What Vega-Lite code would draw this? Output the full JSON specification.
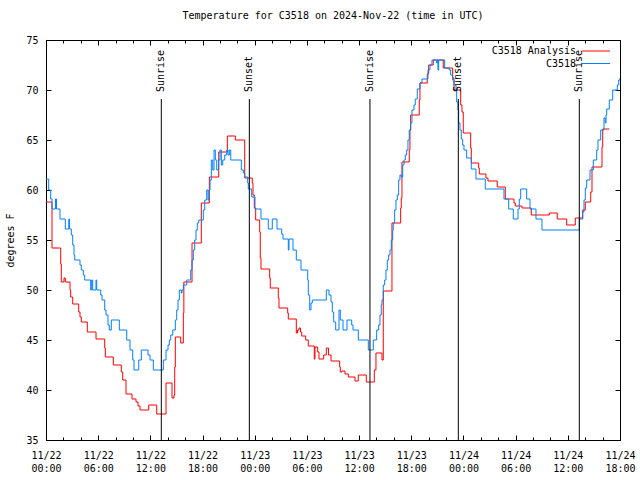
{
  "$schema": "https://vega.github.io/schema/vega-lite/v6.json",
  "width": 574,
  "height": 400,
  "autosize": "none",
  "padding": {"left": 46, "top": 40, "right": 20, "bottom": 40},
  "background": "white",
  "title": {"text": "Temperature for C3518 on 2024-Nov-22 (time in UTC)", "font": "DejaVu Sans Mono", "fontSize": 10, "fontWeight": "normal", "color": "black", "offset": 14, "anchor": "middle"},
  "config": {
    "view": {"stroke": "black", "strokeWidth": 1},
    "axis": {"grid": false, "domain": false, "labelFont": "DejaVu Sans Mono", "labelFontSize": 10, "labelColor": "black", "titleFont": "DejaVu Sans Mono", "titleFontSize": 10, "titleFontWeight": "normal", "titleColor": "black", "tickColor": "black", "tickWidth": 1},
    "legend": {"labelFont": "DejaVu Sans Mono", "labelFontSize": 10, "labelColor": "black"}
  },
  "datasets": {
    "analysis": [
      {"h":0,"t":58.8},{"h":0.69,"t":54.2},{"h":1.69,"t":52.6},{"h":1.76,"t":50.8},{"h":2.07,"t":51.2},{"h":2.22,"t":50.8},{"h":2.76,"t":50.0},{"h":2.84,"t":49.3},{"h":3.07,"t":48.6},{"h":3.76,"t":47.8},{"h":3.91,"t":47.3},{"h":4.06,"t":46.8},{"h":4.75,"t":45.8},{"h":5.75,"t":45.1},{"h":6.75,"t":44.2},{"h":6.82,"t":43.3},{"h":7.74,"t":42.5},{"h":8.66,"t":41.8},{"h":8.82,"t":41.0},{"h":9.20,"t":39.6},{"h":9.89,"t":39.1},{"h":10.35,"t":38.8},{"h":10.58,"t":38.4},{"h":10.81,"t":38.0},{"h":11.81,"t":38.5},{"h":12.73,"t":37.6},{"h":13.80,"t":40.7},{"h":14.49,"t":39.2},{"h":14.72,"t":39.5},{"h":14.80,"t":42.3},{"h":14.87,"t":45.3},{"h":15.49,"t":44.7},{"h":15.79,"t":47.7},{"h":15.85,"t":50.8},{"h":16.79,"t":54.7},{"h":17.86,"t":58.7},{"h":18.78,"t":61.3},{"h":19.86,"t":63.8},{"h":20.85,"t":65.4},{"h":21.77,"t":65.0},{"h":22.85,"t":61.2},{"h":23.72,"t":60.7},{"h":23.80,"t":59.5},{"h":23.95,"t":58.2},{"h":24.11,"t":57.0},{"h":24.57,"t":55.8},{"h":24.64,"t":53.2},{"h":24.72,"t":52.1},{"h":25.72,"t":51.2},{"h":25.79,"t":50.2},{"h":26.71,"t":49.2},{"h":26.79,"t":48.2},{"h":27.79,"t":47.7},{"h":27.86,"t":47.1},{"h":28.78,"t":45.7},{"h":28.92,"t":46.0},{"h":29.09,"t":46.2},{"h":29.26,"t":45.8},{"h":29.40,"t":45.4},{"h":29.86,"t":45.0},{"h":30.16,"t":44.4},{"h":30.85,"t":43.1},{"h":30.93,"t":44.3},{"h":31.24,"t":43.8},{"h":31.39,"t":43.1},{"h":31.93,"t":43.5},{"h":32.23,"t":44.2},{"h":32.48,"t":43.5},{"h":32.77,"t":42.9},{"h":33.77,"t":42.3},{"h":33.84,"t":41.8},{"h":34.03,"t":41.9},{"h":34.38,"t":41.6},{"h":34.76,"t":41.3},{"h":35.53,"t":40.9},{"h":35.91,"t":41.5},{"h":36.83,"t":40.8},{"h":37.75,"t":42.0},{"h":37.94,"t":43.7},{"h":38.63,"t":43.0},{"h":38.78,"t":49.9},{"h":39.78,"t":56.7},{"h":40.78,"t":58.2},{"h":40.85,"t":59.2},{"h":40.93,"t":62.8},{"h":41.77,"t":64.0},{"h":41.85,"t":66.0},{"h":41.93,"t":67.5},{"h":42.92,"t":69.0},{"h":43.00,"t":70.7},{"h":43.84,"t":71.6},{"h":44.00,"t":72.5},{"h":44.53,"t":73.0},{"h":45.68,"t":72.2},{"h":46.76,"t":71.2},{"h":46.91,"t":70.0},{"h":47.68,"t":68.5},{"h":47.83,"t":67.8},{"h":47.98,"t":65.7},{"h":48.83,"t":64.2},{"h":48.90,"t":62.7},{"h":49.75,"t":62.2},{"h":49.82,"t":61.6},{"h":50.59,"t":61.2},{"h":50.82,"t":60.9},{"h":51.89,"t":60.3},{"h":52.81,"t":59.1},{"h":53.81,"t":58.7},{"h":53.96,"t":58.4},{"h":54.73,"t":58.2},{"h":55.80,"t":57.5},{"h":57.87,"t":57.7},{"h":58.79,"t":57.1},{"h":59.87,"t":56.5},{"h":60.86,"t":57.2},{"h":61.71,"t":58.0},{"h":62.01,"t":58.8},{"h":62.63,"t":59.8},{"h":62.78,"t":62.3},{"h":63.93,"t":64.3},{"h":64.01,"t":66.1},{"h":64.77,"t":66.1}
    ],
    "obs": [
      {"h":0,"t":61.1},{"h":0.31,"t":60.0},{"h":0.54,"t":59.1},{"h":0.69,"t":58.1},{"h":1.09,"t":59.1},{"h":1.21,"t":58.1},{"h":1.61,"t":57.1},{"h":2.22,"t":56.1},{"h":2.62,"t":57.1},{"h":2.71,"t":56.1},{"h":2.91,"t":55.5},{"h":3.07,"t":54.5},{"h":3.22,"t":53.5},{"h":3.30,"t":53.0},{"h":3.91,"t":52.5},{"h":4.06,"t":52.0},{"h":4.29,"t":51.5},{"h":4.45,"t":51.0},{"h":5.14,"t":50.0},{"h":5.25,"t":51.0},{"h":5.37,"t":50.0},{"h":5.75,"t":51.0},{"h":5.83,"t":50.0},{"h":6.29,"t":49.5},{"h":6.44,"t":49.0},{"h":6.75,"t":48.0},{"h":6.90,"t":47.5},{"h":7.13,"t":46.5},{"h":7.28,"t":46.0},{"h":7.51,"t":47.0},{"h":8.43,"t":46.0},{"h":9.28,"t":45.0},{"h":9.66,"t":44.0},{"h":9.97,"t":43.0},{"h":10.12,"t":42.0},{"h":10.66,"t":43.0},{"h":10.96,"t":44.0},{"h":11.73,"t":43.5},{"h":11.96,"t":43.0},{"h":12.34,"t":42.0},{"h":13.49,"t":43.0},{"h":13.80,"t":44.0},{"h":14.03,"t":44.5},{"h":14.18,"t":45.0},{"h":14.34,"t":45.5},{"h":14.57,"t":46.0},{"h":14.87,"t":47.0},{"h":15.03,"t":48.0},{"h":15.18,"t":49.0},{"h":15.33,"t":50.0},{"h":15.56,"t":49.7},{"h":15.64,"t":50.0},{"h":15.79,"t":50.5},{"h":16.18,"t":51.0},{"h":16.64,"t":52.0},{"h":16.79,"t":53.0},{"h":16.94,"t":54.0},{"h":17.10,"t":55.0},{"h":17.25,"t":56.0},{"h":17.40,"t":56.7},{"h":17.56,"t":57.0},{"h":18.09,"t":58.0},{"h":18.25,"t":59.0},{"h":18.48,"t":60.0},{"h":18.63,"t":59.0},{"h":18.74,"t":60.0},{"h":18.86,"t":61.0},{"h":19.01,"t":63.0},{"h":19.17,"t":62.0},{"h":19.32,"t":64.0},{"h":19.47,"t":63.0},{"h":19.63,"t":62.0},{"h":19.86,"t":63.0},{"h":20.01,"t":64.0},{"h":20.16,"t":62.5},{"h":20.32,"t":63.0},{"h":20.55,"t":63.5},{"h":20.78,"t":64.0},{"h":20.93,"t":63.5},{"h":21.08,"t":64.0},{"h":21.24,"t":63.0},{"h":22.46,"t":62.0},{"h":22.69,"t":61.7},{"h":22.85,"t":61.3},{"h":23.19,"t":60.7},{"h":23.26,"t":60.1},{"h":23.65,"t":59.3},{"h":24.03,"t":58.1},{"h":24.72,"t":57.1},{"h":25.56,"t":56.1},{"h":26.02,"t":57.1},{"h":26.56,"t":56.1},{"h":27.10,"t":55.6},{"h":27.25,"t":55.1},{"h":27.86,"t":54.0},{"h":27.94,"t":55.1},{"h":28.40,"t":54.0},{"h":28.78,"t":53.0},{"h":29.32,"t":52.0},{"h":30.09,"t":51.0},{"h":30.16,"t":49.5},{"h":30.32,"t":48.0},{"h":30.47,"t":48.7},{"h":30.62,"t":49.0},{"h":32.23,"t":50.0},{"h":32.54,"t":49.5},{"h":32.77,"t":48.8},{"h":32.92,"t":47.8},{"h":33.08,"t":46.8},{"h":33.31,"t":46.0},{"h":33.69,"t":48.0},{"h":33.84,"t":47.0},{"h":34.15,"t":46.0},{"h":34.61,"t":47.0},{"h":35.15,"t":46.5},{"h":35.30,"t":46.0},{"h":35.91,"t":45.0},{"h":37.06,"t":44.0},{"h":37.63,"t":45.0},{"h":38.02,"t":46.0},{"h":38.25,"t":46.5},{"h":38.40,"t":47.5},{"h":38.55,"t":48.5},{"h":38.63,"t":49.0},{"h":38.78,"t":50.5},{"h":38.94,"t":51.0},{"h":39.09,"t":52.0},{"h":39.24,"t":53.0},{"h":39.40,"t":53.5},{"h":39.55,"t":54.0},{"h":39.70,"t":55.0},{"h":39.86,"t":56.0},{"h":39.93,"t":56.7},{"h":40.09,"t":58.0},{"h":40.24,"t":59.0},{"h":40.39,"t":59.5},{"h":40.55,"t":61.0},{"h":40.70,"t":61.5},{"h":40.85,"t":61.3},{"h":41.01,"t":62.5},{"h":41.16,"t":63.0},{"h":41.31,"t":63.5},{"h":41.47,"t":64.0},{"h":41.62,"t":65.0},{"h":41.77,"t":66.0},{"h":41.93,"t":66.7},{"h":42.08,"t":68.0},{"h":42.31,"t":68.5},{"h":42.46,"t":69.1},{"h":42.69,"t":70.1},{"h":43.00,"t":70.7},{"h":43.23,"t":71.1},{"h":43.92,"t":72.0},{"h":44.15,"t":72.5},{"h":44.38,"t":73.0},{"h":44.92,"t":72.7},{"h":44.99,"t":73.0},{"h":45.07,"t":72.0},{"h":45.15,"t":73.0},{"h":45.84,"t":72.2},{"h":46.37,"t":72.0},{"h":46.53,"t":71.5},{"h":46.76,"t":71.0},{"h":46.91,"t":70.5},{"h":47.14,"t":70.0},{"h":47.22,"t":68.8},{"h":47.37,"t":68.0},{"h":47.45,"t":66.7},{"h":47.60,"t":66.0},{"h":47.75,"t":65.1},{"h":47.91,"t":64.5},{"h":48.06,"t":64.0},{"h":48.37,"t":63.2},{"h":48.90,"t":62.1},{"h":49.44,"t":61.1},{"h":50.51,"t":60.1},{"h":52.66,"t":59.1},{"h":53.20,"t":58.1},{"h":53.73,"t":57.1},{"h":54.27,"t":58.1},{"h":54.42,"t":59.1},{"h":54.58,"t":60.1},{"h":55.27,"t":59.1},{"h":55.65,"t":58.1},{"h":56.34,"t":57.1},{"h":57.03,"t":56.0},{"h":61.32,"t":57.1},{"h":61.71,"t":57.8},{"h":61.86,"t":59.0},{"h":62.01,"t":60.2},{"h":62.17,"t":61.0},{"h":62.55,"t":62.0},{"h":62.93,"t":63.0},{"h":63.32,"t":64.0},{"h":63.47,"t":65.0},{"h":63.78,"t":66.0},{"h":64.16,"t":67.2},{"h":64.31,"t":66.7},{"h":64.39,"t":67.5},{"h":64.47,"t":68.1},{"h":64.77,"t":69.0},{"h":65.16,"t":70.0},{"h":65.69,"t":70.5},{"h":65.85,"t":71.0},{"h":66.0,"t":71.2}
    ],
    "sun": [
      {"h":13.26,"label":"Sunrise"},{"h":23.38,"label":"Sunset"},{"h":37.25,"label":"Sunrise"},{"h":47.41,"label":"Sunset"},{"h":61.32,"label":"Sunrise"}
    ]
  },
  "layer": [
    {
      "data": {"name": "analysis"},
      "mark": {"type": "line", "interpolate": "step-after", "strokeWidth": 1, "clip": true},
      "encoding": {
        "x": {"field": "h", "type": "quantitative", "scale": {"domain": [0, 66], "nice": false, "zero": false},
              "axis": {"orient": "bottom", "title": null, "values": [0,6,12,18,24,30,36,42,48,54,60,66], "tickSize": -5, "labelPadding": 15, "labelLineHeight": 13, "labelBaseline": "top", "labelFlush": false, "labelOverlap": false,
                       "labelExpr": "['11/' + (22 + floor(datum.value/24)), ((datum.value % 24) < 10 ? '0' : '') + (datum.value % 24) + ':00']"}},
        "y": {"field": "t", "type": "quantitative", "scale": {"domain": [35, 75], "nice": false, "zero": false},
              "axis": {"orient": "left", "title": "degrees F", "values": [35,40,45,50,55,60,65,70,75], "tickSize": -5, "labelPadding": 13, "titlePadding": 10}},
        "color": {"datum": "C3518 Analysis", "type": "nominal",
                  "scale": {"domain": ["C3518 Analysis", "C3518"], "range": ["#ff0000", "#0080ff"]},
                  "legend": {"orient": "none", "legendX": 545, "legendY": 6, "title": null, "symbolType": "M-2.8,-0.1H2.8V0.1H-2.8Z", "symbolSize": 100, "symbolStrokeWidth": 0, "labelAlign": "right", "labelOffset": -25, "rowPadding": 2.5,
                             "encode": {"symbols": {"update": {"fill": {"scale": "color", "field": "value"}, "fillOpacity": {"value": 1}, "strokeWidth": {"value": 0}}}}}}
      }
    },
    {
      "data": {"name": "obs"},
      "mark": {"type": "line", "interpolate": "step-after", "strokeWidth": 1, "clip": true},
      "encoding": {
        "x": {"field": "h", "type": "quantitative",
              "axis": {"orient": "bottom", "title": null, "labels": false, "values": [0,2,4,6,8,10,12,14,16,18,20,22,24,26,28,30,32,34,36,38,40,42,44,46,48,50,52,54,56,58,60,62,64,66], "tickSize": -3}},
        "y": {"field": "t", "type": "quantitative",
              "axis": {"orient": "right", "title": null, "labels": false, "values": [35,40,45,50,55,60,65,70,75], "tickSize": -5}},
        "color": {"datum": "C3518", "type": "nominal"}
      }
    },
    {
      "data": {"name": "sun"},
      "mark": {"type": "rule", "color": "black", "strokeWidth": 1},
      "encoding": {
        "x": {"field": "h", "type": "quantitative",
              "axis": {"orient": "top", "title": null, "labels": false, "values": [0,6,12,18,24,30,36,42,48,54,60,66], "tickSize": -5}},
        "y": {"datum": 35, "type": "quantitative", "axis": null},
        "y2": {"datum": 69.1}
      }
    },
    {
      "data": {"name": "sun"},
      "mark": {"type": "text", "angle": 270, "align": "left", "baseline": "middle", "font": "DejaVu Sans Mono", "fontSize": 10, "color": "black"},
      "encoding": {
        "x": {"field": "h", "type": "quantitative",
              "axis": {"orient": "top", "title": null, "labels": false, "values": [0,2,4,6,8,10,12,14,16,18,20,22,24,26,28,30,32,34,36,38,40,42,44,46,48,50,52,54,56,58,60,62,64,66], "tickSize": -3}},
        "y": {"datum": 69.8, "type": "quantitative", "axis": null},
        "text": {"field": "label"}
      }
    }
  ],
  "resolve": {"axis": {"x": "independent", "y": "independent"}}
}
